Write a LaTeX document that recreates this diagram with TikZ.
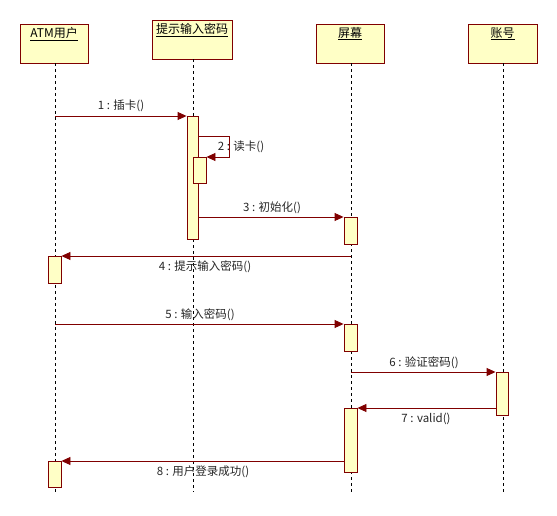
\documentclass[tikz,border=0pt]{standalone}
\usepackage{fontspec}
\setmainfont{Noto Sans CJK SC}
\usetikzlibrary{arrows.meta}
\definecolor{dred}{HTML}{800000}
\definecolor{lyel}{HTML}{FFFFC6}
\begin{document}
\begin{tikzpicture}[x=1pt,y=-1pt,
  headbox/.style={draw=dred,fill=lyel,line width=0.9pt,inner sep=0pt,minimum height=39pt},
  headtext/.style={font=\fontsize{12}{14}\selectfont,inner sep=0pt,anchor=north},
  lifeline/.style={black,dash pattern=on 3pt off 3pt,line width=0.7pt},
  actbox/.style={draw=dred,fill=lyel,line width=0.9pt,inner sep=0pt,minimum width=12pt,anchor=north},
  msg/.style={dred,line width=0.9pt,-{Triangle[length=9pt,width=8pt]}},
  lbl/.style={font=\fontsize{11.5}{13}\selectfont,inner sep=0pt,text=black!85}]
\useasboundingbox (0,0) rectangle (557,516);
\fill[white] (0,0) rectangle (557,516);
% header boxes
\node[headbox,minimum width=68pt] (h1) at (54,43.5) {};
\node[headbox,minimum width=80pt] (h2) at (192,39.5) {};
\node[headbox,minimum width=68pt] (h3) at (350,43.5) {};
\node[headbox,minimum width=69pt] (h4) at (502.5,43.5) {};
\node[headtext] (t1) at (54,27) {\underline{ATM用户}};
\node[headtext] (t2) at (192,23) {\underline{提示输入密码}};
\node[headtext] (t3) at (350,27) {\underline{屏幕}};
\node[headtext] (t4) at (502.5,27) {\underline{账号}};
% lifeline ends
\coordinate (e1) at (55,492);
\coordinate (e2) at (193,492);
\coordinate (e3) at (351,492);
\coordinate (e4) at (503,492);
\draw[lifeline] (h1.south -| e1) -- (e1);
\draw[lifeline] (h2.south -| e2) -- (e2);
\draw[lifeline] (h3.south -| e3) -- (e3);
\draw[lifeline] (h4.south -| e4) -- (e4);
% activations
\node[actbox,minimum width=11pt,minimum height=123pt] (a1) at (192.5,116) {};
\node[actbox,minimum width=13pt,minimum height=26pt] (a2) at (199.5,157) {};
\node[actbox,minimum width=13pt,minimum height=27pt] (a3) at (350.5,217) {};
\node[actbox,minimum width=13pt,minimum height=27pt] (a4) at (54.5,256) {};
\node[actbox,minimum width=13pt,minimum height=27pt] (a5) at (350.5,324) {};
\node[actbox,minimum width=12pt,minimum height=43pt] (a6) at (502,372) {};
\node[actbox,minimum width=13pt,minimum height=64pt] (a7) at (350.5,408) {};
\node[actbox,minimum width=13pt,minimum height=26pt] (a8) at (54.5,461) {};
% messages
\coordinate (s1) at (55,116);
\draw[msg] (s1) -- (a1.north west);
\node[lbl] (m1) at (121,106) {1 : 插卡()};
\coordinate (p2a) at (198,136);
\coordinate (p2b) at (229,136);
\draw[msg] (p2a) -- (p2b) -- (p2b |- a2.north east) -- (a2.north east);
\node[lbl] (m2) at (241,147) {2 : 读卡()};
\draw[msg] (a1.east |- a3.north west) -- (a3.north west);
\node[lbl] (m3) at (272,208) {3 : 初始化()};
\draw[msg] (e3 |- a4.north east) -- (a4.north east);
\node[lbl] (m4) at (205,267) {4 : 提示输入密码()};
\draw[msg] (e1 |- a5.north west) -- (a5.north west);
\node[lbl] (m5) at (200,315) {5 : 输入密码()};
\draw[msg] (e3 |- a6.north west) -- (a6.north west);
\node[lbl] (m6) at (424,363) {6 : 验证密码()};
\draw[msg] (a6.west |- a7.north east) -- (a7.north east);
\node[lbl] (m7) at (426,419) {7 : valid()};
\draw[msg] (a7.west |- a8.north east) -- (a8.north east);
\node[lbl] (m8) at (203,472) {8 : 用户登录成功()};
\end{tikzpicture}
\end{document}
